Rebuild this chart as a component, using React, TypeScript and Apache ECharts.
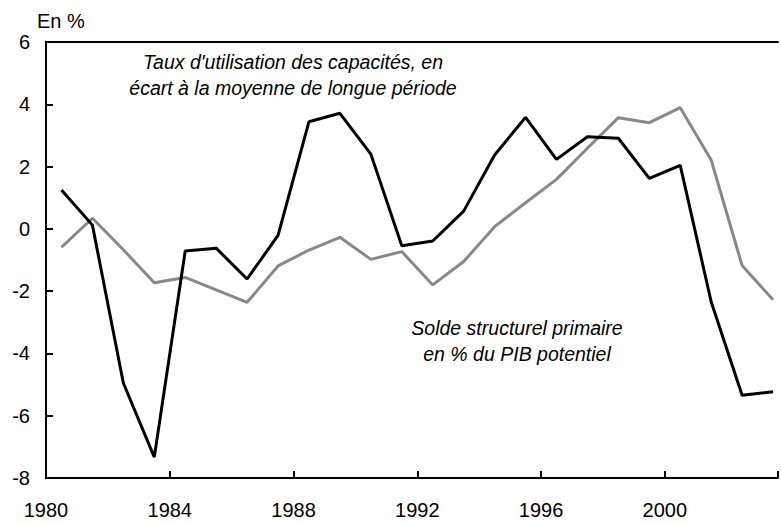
import React, { useEffect, useRef } from "react";
import * as echarts from "echarts";

const years = [1980.5, 1981.5, 1982.5, 1983.5, 1984.5, 1985.5, 1986.5, 1987.5, 1988.5, 1989.5, 1990.5, 1991.5, 1992.5, 1993.5, 1994.5, 1995.5, 1996.5, 1997.5, 1998.5, 1999.5, 2000.5, 2001.5, 2002.5, 2003.5];
const capacite = [1.25, 0.12, -4.95, -7.33, -0.71, -0.62, -1.61, -0.21, 3.44, 3.71, 2.4, -0.54, -0.39, 0.57, 2.37, 3.58, 2.23, 2.96, 2.91, 1.62, 2.04, -2.34, -5.34, -5.23];
const solde = [-0.59, 0.34, -0.67, -1.73, -1.56, -1.96, -2.36, -1.19, -0.68, -0.27, -0.98, -0.73, -1.8, -1.05, 0.07, 0.84, 1.59, 2.59, 3.57, 3.41, 3.89, 2.21, -1.18, -2.28];
const yTicks = { min: -8, max: 6, interval: 2 };
const xTicks = { min: 1980, max: 2003.66, interval: 4 };

const FONT = "'Liberation Sans', Arial, sans-serif";

export default function App() {
  const ref = useRef<HTMLDivElement>(null);
  useEffect(() => {
    if (!ref.current) return;
    const chart = echarts.init(ref.current, null, { renderer: "svg" });
    const toPairs = (vals: number[]) => vals.map((v, i) => [years[i], v]);
    const annot = (text: string, x: number, y: number) => ({
      type: "text",
      x,
      y,
      style: {
        text,
        fontSize: 19.5,
        fontStyle: "italic",
        fontFamily: FONT,
        fill: "#000",
        align: "center",
        verticalAlign: "middle",
      },
    });
    chart.setOption({
      animation: false,
      textStyle: { fontFamily: FONT },
      grid: { left: 46, right: 0, top: 42, bottom: 45, containLabel: false },
      xAxis: [
        {
          type: "value",
          min: xTicks.min,
          max: xTicks.max,
          interval: xTicks.interval,
          axisLine: { show: true, onZero: false, lineStyle: { color: "#000", width: 2 } },
          axisTick: { show: true, inside: true, length: 7, lineStyle: { color: "#000", width: 2 } },
          splitLine: { show: false },
          axisLabel: {
            color: "#000",
            fontSize: 20,
            fontFamily: FONT,
            margin: 22,
            formatter: (v: number) => (Number.isInteger(v) && v % 4 === 0 && v <= 2000 ? String(v) : ""),
          },
        },
        {
          type: "value",
          position: "top",
          min: xTicks.min,
          max: xTicks.max,
          axisLine: { show: true, onZero: false, lineStyle: { color: "#000", width: 2 } },
          axisTick: { show: false },
          axisLabel: { show: false },
          splitLine: { show: false },
        },
      ],
      yAxis: {
        type: "value",
        min: yTicks.min,
        max: yTicks.max,
        interval: yTicks.interval,
        axisLine: { show: true, onZero: false, lineStyle: { color: "#000", width: 2 } },
        axisTick: { show: true, inside: true, length: 7, lineStyle: { color: "#000", width: 2 } },
        splitLine: { show: false },
        axisLabel: { color: "#000", fontSize: 20, fontFamily: FONT, margin: 16 },
      },
      series: [
        {
          type: "line",
          data: toPairs(solde),
          symbol: "none",
          lineStyle: { color: "#888888", width: 3 },
          z: 2,
        },
        {
          type: "line",
          data: toPairs(capacite),
          symbol: "none",
          lineStyle: { color: "#000000", width: 3 },
          z: 3,
        },
      ],
      graphic: [
        {
          type: "text",
          x: 37,
          y: 21,
          style: { text: "En %", fontSize: 20, fontFamily: FONT, fill: "#000", verticalAlign: "middle" },
        },
        annot("Taux d'utilisation des capacités, en", 293, 62),
        annot("écart à la moyenne de longue période", 293, 88),
        annot("Solde structurel primaire", 517, 328),
        annot("en % du PIB potentiel", 517, 354),
      ],
    });
    return () => chart.dispose();
  }, []);
  return <div ref={ref} style={{ position: "absolute", left: 0, top: 0, width: 781, height: 523 }} />;
}
